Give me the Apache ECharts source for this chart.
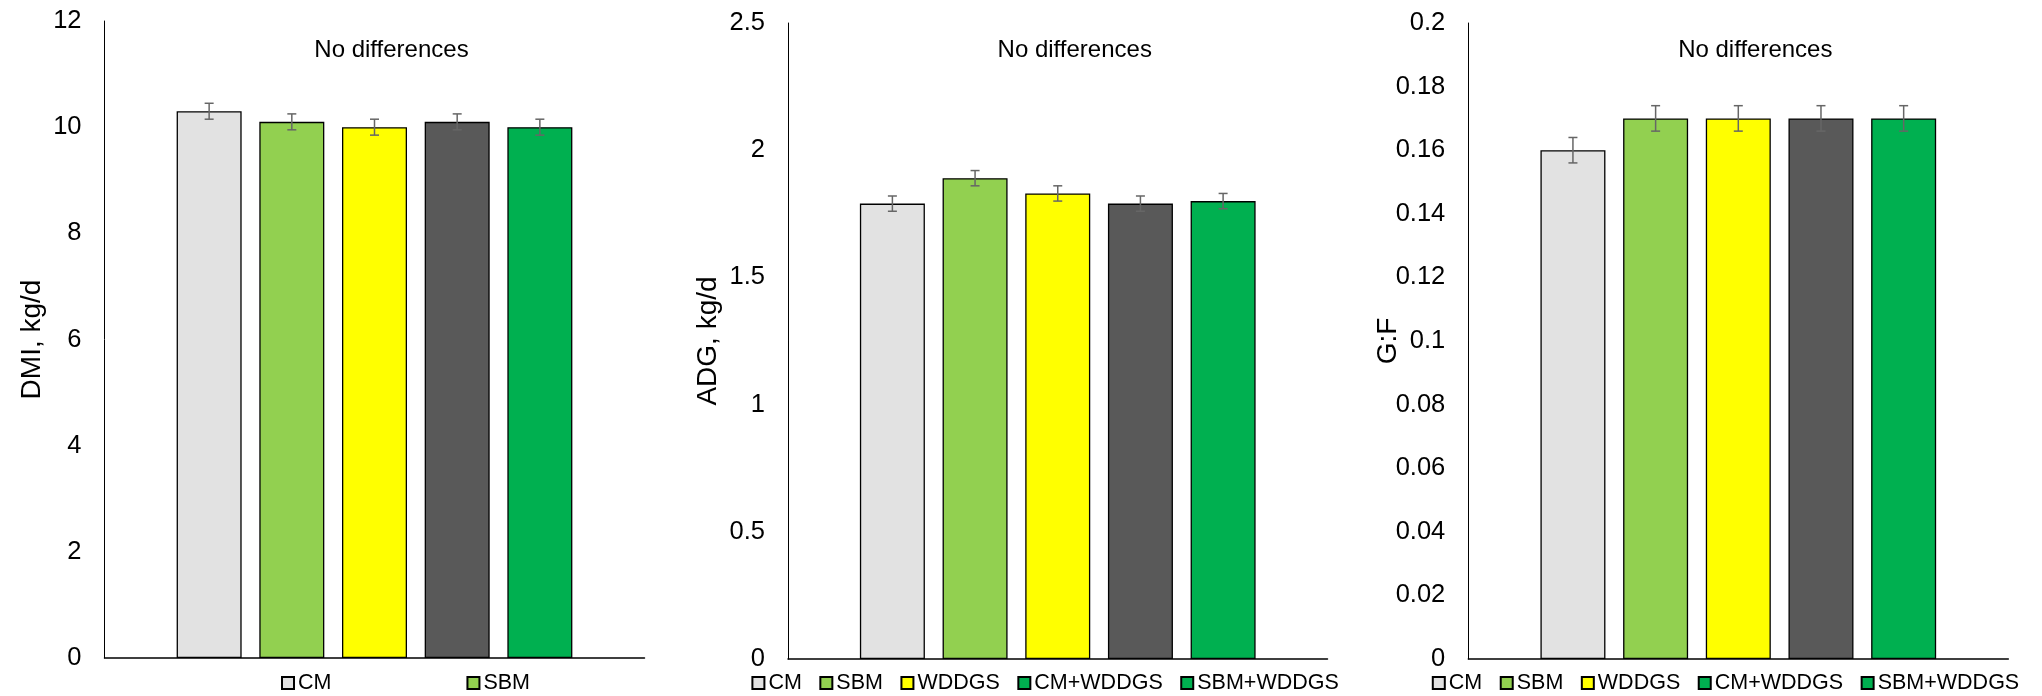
<!DOCTYPE html>
<html><head><meta charset="utf-8">
<script src="https://cdn.jsdelivr.net/npm/echarts@6/dist/echarts.min.js"></script>
<style>html,body{margin:0;padding:0;background:#fff}#c{width:2042px;height:696px}</style>
</head><body><div id="c"></div>
<script>
// ---- data ----
const treatments = ['CM', 'SBM', 'WDDGS', 'CM+WDDGS', 'SBM+WDDGS'];
const dmiMean = [10.3, 10.1, 10.0, 10.1, 10.0];
const dmiSE = [0.15, 0.15, 0.15, 0.15, 0.15];
const adgMean = [1.79, 1.89, 1.83, 1.79, 1.80];
const adgSE = [0.03, 0.03, 0.03, 0.03, 0.03];
const gfMean = [0.16, 0.17, 0.17, 0.17, 0.17];
const gfSE = [0.004, 0.004, 0.004, 0.004, 0.004];
const yNames = ['DMI, kg/d', 'ADG, kg/d', 'G:F'];
const yMax = [12, 2.5, 0.2];
const yInterval = [2, 0.5, 0.02];
const panelTitle = 'No differences';
const legend1Items = ['CM', 'SBM'];

// ---- styling ----
const colors = ['#E2E2E2', '#92D050', '#FFFF00', '#595959', '#00B050'];
const FONT = "'Liberation Sans',Arial,sans-serif";
const grids = [
  {left: 104.5, top: 21, width: 540, height: 637},
  {left: 788, top: 23, width: 539.5, height: 636},
  {left: 1468.3, top: 23, width: 540, height: 636}
];
const barW = 65;
const gapR = 0.272;
const nameGaps = [58, 65.5, 66];
const legendLeft = [281, 751.4, 1431.8];
const means = [dmiMean, adgMean, gfMean];
const ses = [dmiSE, adgSE, gfSE];

function errRender(bw, gr) {
  return function (params, api) {
    const i = api.value(1), m = api.value(2), e = api.value(3);
    const c = api.coord([0, m]);
    const x = c[0] + (i - 2) * bw * (1 + gr);
    const top = api.coord([0, m + e])[1];
    const bot = api.coord([0, m - e])[1];
    const hw = 4.5;
    const style = {stroke: '#666666', lineWidth: 1.5};
    return {type: 'group', children: [
      {type: 'line', shape: {x1: x, y1: top, x2: x, y2: bot}, style},
      {type: 'line', shape: {x1: x - hw, y1: top, x2: x + hw, y2: top}, style},
      {type: 'line', shape: {x1: x - hw, y1: bot, x2: x + hw, y2: bot}, style}
    ]};
  };
}

const option = {
  animation: false,
  backgroundColor: '#fff',
  grid: grids,
  title: grids.map(g => ({
    text: panelTitle, left: g.left + g.width / 2 + 17, top: 38, padding: 0,
    textAlign: 'center',
    textStyle: {fontFamily: FONT, fontSize: 24, fontWeight: 'normal', color: '#000'}
  })),
  legend: [0, 1, 2].map(k => ({
    left: legendLeft[k], top: 672, padding: 0,
    itemWidth: 12, itemHeight: 12, icon: 'rect',
    itemGap: k === 0 ? 135 : 17.5,
    textStyle: {fontFamily: FONT, fontSize: 21.5, color: '#000', padding: [0, 0, 0, -1]},
    data: k === 0 ? legend1Items : treatments.map((t, i) => (i === 3 ? {name: t, itemStyle: {color: colors[4]}} : t))
  })),
  xAxis: grids.map((g, k) => ({
    type: 'category', gridIndex: k, data: [''],
    axisLine: {lineStyle: {color: '#000', width: 1.5}},
    axisTick: {show: false}, axisLabel: {show: false}, splitLine: {show: false}
  })),
  yAxis: grids.map((g, k) => ({
    type: 'value', gridIndex: k, min: 0, max: yMax[k], interval: yInterval[k],
    name: yNames[k], nameLocation: 'middle', nameRotate: 90, nameGap: nameGaps[k],
    nameMoveOverlap: false,
    nameTextStyle: {fontFamily: FONT, fontSize: 28, color: '#000'},
    axisLine: {show: true, lineStyle: {color: '#000', width: 1}},
    axisTick: {show: false}, splitLine: {show: false},
    axisLabel: {fontFamily: FONT, fontSize: 25.5, color: '#000', margin: 23}
  })),
  series: []
};

for (let k = 0; k < 3; k++) {
  treatments.forEach((t, i) => {
    option.series.push({
      type: 'bar', name: t, xAxisIndex: k, yAxisIndex: k,
      barWidth: barW, barGap: (gapR * 100) + '%',
      data: [means[k][i]],
      itemStyle: {color: colors[i], borderColor: '#000', borderWidth: 1.3}
    });
  });
  option.series.push({
    type: 'custom', xAxisIndex: k, yAxisIndex: k, z: 10,
    renderItem: errRender(barW, gapR),
    encode: {x: 0, y: 2},
    data: treatments.map((t, i) => [0, i, means[k][i], ses[k][i]])
  });
}

const chart = echarts.init(document.getElementById('c'));
chart.setOption(option);
</script>
</body></html>
